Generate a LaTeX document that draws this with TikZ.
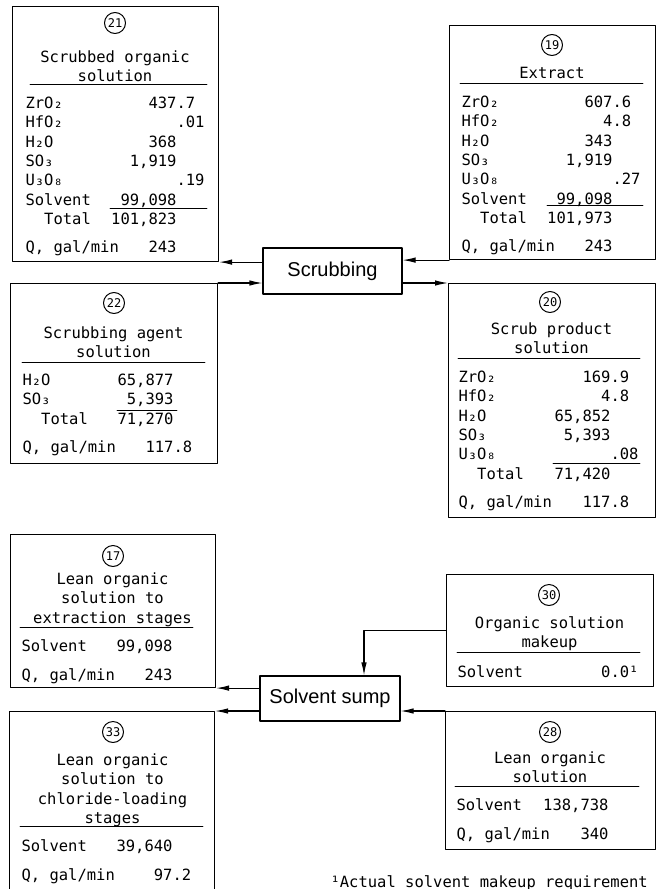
\documentclass[tikz,border=0pt]{standalone}
\usepackage{fontspec}
\setmonofont{DejaVu Sans Mono}
\newfontfamily\procfont{Liberation Sans}
\usetikzlibrary{arrows.meta}
% one row of a stream table: name, integer part, decimal part
\newcommand{\rw}[3]{\makebox[\rcol][l]{#1}\llap{#2}#3}
\def\rcol{151pt}

\begin{document}
\begin{tikzpicture}[x=1pt, y=-1pt, line width=1.1pt, line join=round, line cap=round,
		font=\ttfamily\fontsize{15.5}{19.3}\selectfont,
		>={Latex[length=13pt,width=5.5pt]},
		stream/.style={draw, anchor=north west, inner sep=0pt},
		process/.style={draw, inner sep=0pt, font=\procfont\fontsize{20}{24}\selectfont},
		num/.style={draw, circle, line width=1pt, inner sep=0pt, minimum size=21pt, font=\ttfamily\fontsize{12}{12}\selectfont},
		ttl/.style={anchor=base, inner sep=0pt},
		tbl/.style={anchor=base west, inner sep=0pt},
		rule/.style={line width=0.7pt}]
	\useasboundingbox (0,0) rectangle (657,889);
	% processes
	\node[process, minimum width=139pt, minimum height=46pt] (scrub) at (332.5,271) {Scrubbing};
	\node[process, minimum width=140pt, minimum height=45pt] (sump) at (330,698.5) {Solvent sump};
	% stream 21
	\node[stream, minimum width=206pt, minimum height=255pt] (b21) at (12,6) {};
	\node[num] (c21) at (115,23) {21};
	\node[ttl] (t21) at (115,62.5) {\begin{tabular}[t]{@{}c@{}}Scrubbed organic\\solution\end{tabular}};
	\draw[rule] (30,84) -- (207,84);
	\node[tbl] (d21) at (25,108.5) {\begin{tabular}[t]{@{}l@{}}
		\rw{ZrO₂}{437}{.7}\\
		\rw{HfO₂}{}{.01}\\
		\rw{H₂O}{368}{}\\
		\rw{SO₃}{1,919}{}\\
		\rw{U₃O₈}{}{.19}\\
		\rw{Solvent}{99,098}{}\\
		\rw{~~Total}{101,823}{}\\[9pt]
		\rw{Q, gal/min}{243}{}
	\end{tabular}};
	\draw[rule] (110,208) -- (207,208);
	% stream 19
	\node[stream, minimum width=206pt, minimum height=234pt] (b19) at (449,25) {};
	\node[num] (c19) at (552,45) {19};
	\node[ttl] (t19) at (552,78.5) {Extract};
	\draw[rule] (460,83) -- (643,83);
	\node[tbl] (d19) at (461,107.5) {\begin{tabular}[t]{@{}l@{}}
		\rw{ZrO₂}{607}{.6}\\
		\rw{HfO₂}{4}{.8}\\
		\rw{H₂O}{343}{}\\
		\rw{SO₃}{1,919}{}\\
		\rw{U₃O₈}{}{.27}\\
		\rw{Solvent}{99,098}{}\\
		\rw{~~Total}{101,973}{}\\[9pt]
		\rw{Q, gal/min}{243}{}
	\end{tabular}};
	\draw[rule] (547,205) -- (643,205);
	% stream 22
	\node[stream, minimum width=207pt, minimum height=180pt] (b22) at (10,283) {};
	\node[num] (c22) at (114,303) {22};
	\node[ttl] (t22) at (113.5,338.5) {\begin{tabular}[t]{@{}c@{}}Scrubbing agent\\solution\end{tabular}};
	\draw[rule] (22,362) -- (205,362);
	\node[tbl] (d22) at (22,385.5) {\begin{tabular}[t]{@{}l@{}}
		\rw{H₂O}{65,877}{}\\
		\rw{SO₃}{5,393}{}\\
		\rw{~~Total}{71,270}{}\\[9pt]
		\rw{Q, gal/min}{117}{.8}
	\end{tabular}};
	\draw[rule] (117,410) -- (177,410);
	% stream 20
	\node[stream, minimum width=207pt, minimum height=234pt] (b20) at (448,283) {};
	\node[num] (c20) at (550,302) {20};
	\node[ttl] (t20) at (551.5,334.5) {\begin{tabular}[t]{@{}c@{}}Scrub product\\solution\end{tabular}};
	\draw[rule] (458,358) -- (640,358);
	\node[tbl] (d20) at (458,382.5) {\def\rcol{152pt}\begin{tabular}[t]{@{}l@{}}
		\rw{ZrO₂}{169}{.9}\\
		\rw{HfO₂}{4}{.8}\\
		\rw{H₂O}{65,852}{}\\
		\rw{SO₃}{5,393}{}\\
		\rw{U₃O₈}{}{.08}\\
		\rw{~~Total}{71,420}{}\\[9pt]
		\rw{Q, gal/min}{117}{.8}
	\end{tabular}};
	\draw[rule] (553,463) -- (640,463);
	% stream 17
	\node[stream, minimum width=205pt, minimum height=153pt] (b17) at (10,534) {};
	\node[num] (c17) at (113,556) {17};
	\node[ttl] (t17) at (112.5,584.5) {\begin{tabular}[t]{@{}c@{}}Lean organic\\solution to\\extraction stages\end{tabular}};
	\draw[rule] (20,627) -- (193,627);
	\node[tbl] (d17) at (21,651.5) {\begin{tabular}[t]{@{}l@{}}
		\rw{Solvent}{99,098}{}\\[10pt]
		\rw{Q, gal/min}{243}{}
	\end{tabular}};
	% stream 33
	\node[stream, minimum width=205pt, minimum height=186pt] (b33) at (9,711) {};
	\node[num] (c33) at (113,732) {33};
	\node[ttl] (t33) at (112.5,765.5) {\begin{tabular}[t]{@{}c@{}}Lean organic\\solution to\\chloride-loading\\stages\end{tabular}};
	\draw[rule] (20,826) -- (203,826);
	\node[tbl] (d33) at (21,851.5) {\begin{tabular}[t]{@{}l@{}}
		\rw{Solvent}{39,640}{}\\[10pt]
		\rw{Q, gal/min}{97}{.2}
	\end{tabular}};
	% stream 30
	\node[stream, minimum width=207pt, minimum height=112pt] (b30) at (446,574) {};
	\node[num] (c30) at (549,595) {30};
	\node[ttl] (t30) at (549.5,628.5) {\begin{tabular}[t]{@{}c@{}}Organic solution\\makeup\end{tabular}};
	\draw[rule] (457,652) -- (640,652);
	\node[tbl] (d30) at (457,677.5) {\def\rcol{153pt}\rw{Solvent}{0}{.0¹}};
	% stream 28
	\node[stream, minimum width=210pt, minimum height=138pt] (b28) at (445,711) {};
	\node[num] (c28) at (550,732) {28};
	\node[ttl] (t28) at (550,763.5) {\begin{tabular}[t]{@{}c@{}}Lean organic\\solution\end{tabular}};
	\draw[rule] (455,786) -- (639,786);
	\node[tbl] (d28) at (456,810.5) {\def\rcol{152pt}\begin{tabular}[t]{@{}l@{}}
		\rw{Solvent}{138,738}{}\\[10pt]
		\rw{Q, gal/min}{340}{}
	\end{tabular}};
	% flows
	\draw[->] (scrub.west |- b21.south east) -- (b21.south east);
	\draw[->] (b19.south west) -- (scrub.east |- b19.south west);
	\draw[->] (b22.north east) -- (scrub.west |- b22.north east);
	\draw[->] (scrub.east |- b20.north west) -- (b20.north west);
	\draw[->] (sump.west |- b17.south east) -- (b17.south east);
	\draw[->] (sump.west |- b33.north east) -- (b33.north east);
	\draw[->] (b28.north west) -- (sump.east |- b28.north west);
	\coordinate (drop) at (364,0);
	\draw[->] (b30.west) -| (drop |- sump.north);
	% footnote
	\node[anchor=base west, inner sep=0pt] (note) at (330,887) {¹Actual solvent makeup requirement};
\end{tikzpicture}
\end{document}
